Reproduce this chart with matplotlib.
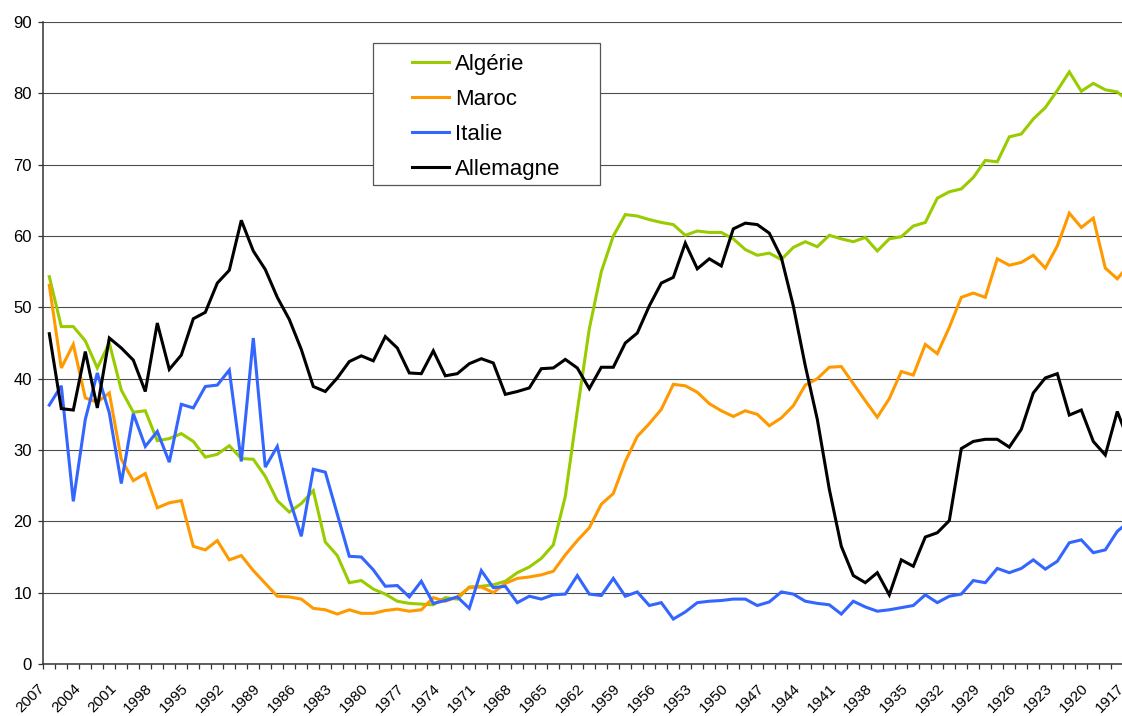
import matplotlib
matplotlib.use("Agg")
import matplotlib.pyplot as plt
import matplotlib.transforms as mtransforms
from matplotlib.patches import Rectangle
from matplotlib.ticker import FixedLocator, NullFormatter
import numpy as np

plt.rcParams['font.family'] = ['Liberation Sans', 'DejaVu Sans']

years = list(range(2007, 1916, -1))  # 2007 ... 1917

algerie = [54.3, 47.3, 47.3, 45.3, 41.5, 45.0, 38.4, 35.3, 35.5, 31.3,
           31.6, 32.3, 31.2, 29.0, 29.4, 30.6, 28.8, 28.7, 26.3, 22.9,
           21.3, 22.5, 24.3, 17.1, 15.2, 11.4, 11.7, 10.5, 9.8, 8.8,
           8.5, 8.4, 8.3, 9.3, 9.1, 10.8, 10.9, 11.1, 11.6, 12.8,
           13.6, 14.8, 16.7, 23.5, 35.5, 47.0, 55.0, 60.0, 63.0, 62.8,
           62.3, 61.9, 61.6, 60.1, 60.7, 60.5, 60.5, 59.6, 58.1, 57.3,
           57.6, 56.7, 58.4, 59.2, 58.5, 60.1, 59.6, 59.2, 59.8, 57.9,
           59.6, 59.9, 61.4, 61.9, 65.3, 66.2, 66.6, 68.2, 70.6, 70.4,
           73.9, 74.3, 76.4, 78.0, 80.4, 83.0, 80.3, 81.4, 80.5, 80.2,
           78.8]

maroc = [53.1, 41.5, 44.8, 37.3, 36.7, 38.0, 28.7, 25.7, 26.7, 21.9,
         22.6, 22.9, 16.5, 16.0, 17.3, 14.6, 15.2, 13.1, 11.3, 9.5,
         9.4, 9.1, 7.8, 7.6, 7.0, 7.6, 7.1, 7.1, 7.5, 7.7,
         7.4, 7.6, 9.3, 8.8, 9.4, 10.7, 10.8, 10.0, 11.3, 12.0,
         12.2, 12.5, 13.0, 15.3, 17.3, 19.1, 22.4, 23.9, 28.4, 31.9,
         33.7, 35.7, 39.2, 39.0, 38.1, 36.5, 35.5, 34.7, 35.5, 35.0,
         33.4, 34.5, 36.2, 39.1, 40.0, 41.6, 41.7, 39.3, 36.9, 34.6,
         37.2, 41.0, 40.5, 44.8, 43.5, 47.2, 51.4, 52.0, 51.4, 56.8,
         55.9, 56.3, 57.3, 55.5, 58.6, 63.2, 61.2, 62.5, 55.5, 54.0,
         56.0]

italie = [36.3, 39.0, 22.8, 34.3, 40.8, 35.2, 25.3, 35.1, 30.5, 32.6,
          28.3, 36.4, 35.9, 38.9, 39.1, 41.2, 28.4, 45.7, 27.6, 30.5,
          23.2, 17.9, 27.3, 26.9, 21.0, 15.1, 15.0, 13.2, 10.9, 11.0,
          9.4, 11.6, 8.5, 8.9, 9.4, 7.8, 13.1, 10.7, 10.9, 8.6,
          9.5, 9.1, 9.7, 9.8, 12.4, 9.8, 9.6, 12.0, 9.5, 10.1,
          8.2, 8.6, 6.3, 7.3, 8.6, 8.8, 8.9, 9.1, 9.1, 8.2,
          8.7, 10.1, 9.8, 8.8, 8.5, 8.3, 7.0, 8.8, 8.0, 7.4,
          7.6, 7.9, 8.2, 9.7, 8.6, 9.5, 9.8, 11.7, 11.4, 13.4,
          12.8, 13.4, 14.6, 13.3, 14.4, 17.0, 17.4, 15.6, 16.0, 18.6,
          20.0]

allemagne = [46.3, 35.8, 35.6, 43.8, 35.9, 45.7, 44.3, 42.6, 38.2, 47.8,
             41.3, 43.3, 48.4, 49.3, 53.4, 55.2, 62.2, 57.9, 55.3, 51.4,
             48.3, 44.1, 38.9, 38.2, 40.1, 42.4, 43.2, 42.5, 45.9, 44.3,
             40.8, 40.7, 43.9, 40.4, 40.7, 42.1, 42.8, 42.2, 37.8, 38.2,
             38.7, 41.4, 41.5, 42.7, 41.5, 38.6, 41.6, 41.6, 45.0, 46.4,
             50.2, 53.4, 54.2, 59.0, 55.4, 56.8, 55.8, 61.0, 61.8, 61.6,
             60.4, 57.0, 50.2, 41.8, 34.3, 24.5, 16.5, 12.4, 11.4, 12.8,
             9.7, 14.6, 13.7, 17.8, 18.4, 20.1, 30.2, 31.2, 31.5, 31.5,
             30.4, 32.9, 38.0, 40.1, 40.7, 34.9, 35.6, 31.2, 29.3, 35.4,
             31.0]

series_names = ['Algérie', 'Maroc', 'Italie', 'Allemagne']
series_values = [algerie, maroc, italie, allemagne]
series_colors = ['#99CC00', '#FF9900', '#3366FF', '#000000']
y_ticks = list(range(0, 91, 10))

W, H = 1122, 716
fig = plt.figure(figsize=(W / 100, H / 100), dpi=100)
ax = fig.add_axes([43.3 / W, 52 / H, 1092 / W, 642 / H])

x = np.arange(len(years))
handles = []
for name, vals, col in zip(series_names, series_values, series_colors):
    h, = ax.plot(x, vals, color=col, lw=2.2, label=name, solid_joinstyle='miter')
    handles.append(h)

# grid
ax.set_yticks(y_ticks)
ax.yaxis.grid(True, color='#4d4d4d', lw=0.8)
ax.set_axisbelow(True)
ax.tick_params(axis='y', direction='out', length=3.3, width=0.9, color='#333333',
               labelsize=12, pad=5)

# x: tick marks at category boundaries
ax.xaxis.set_major_locator(FixedLocator(np.arange(-0.5, len(years), 1.0)))
ax.xaxis.set_major_formatter(NullFormatter())
ax.tick_params(axis='x', which='major', direction='out', length=3.6, width=0.9,
               color='#333333')

ax.set_xlim(-0.5, len(years) - 0.5)
ax.set_ylim(0, 90)

# year labels every 3 categories, rotated 45 degrees
lab_idx = list(range(0, len(years), 3))
lab_trans = (mtransforms.blended_transform_factory(ax.transData, ax.transAxes)
             + mtransforms.ScaledTranslation(-0.06, -0.175, fig.dpi_scale_trans))
for i in lab_idx:
    ax.text(i - 0.5, 0, str(years[i]), transform=lab_trans, rotation=45,
            ha='right', va='top', rotation_mode='anchor', fontsize=11,
            clip_on=False)

for s in ['top', 'right']:
    ax.spines[s].set_visible(False)
for s in ['left', 'bottom']:
    ax.spines[s].set_color('#333333')
    ax.spines[s].set_linewidth(1.1)

# legend frame + legend
rect = Rectangle((373 / W, 1 - 185 / H), 227 / W, 142 / H, transform=fig.transFigure,
                 facecolor='white', edgecolor='#555555', lw=0.9, zorder=3)
fig.add_artist(rect)
leg = fig.legend(handles=handles, labels=series_names, loc='upper left',
                 bbox_to_anchor=(412 / W, 1 - 54 / H), frameon=False,
                 borderpad=0, borderaxespad=0, fontsize=16,
                 handlelength=1.65, handletextpad=0.3, labelspacing=0.63)
leg.set_zorder(4)

fig.savefig('out.png', dpi=100)
